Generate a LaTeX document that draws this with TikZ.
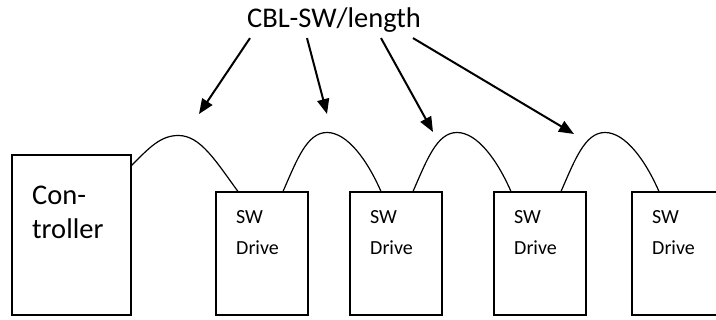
\documentclass[tikz,border=0pt]{standalone}
\usepackage{fontspec}
\setmainfont{Carlito}
\usetikzlibrary{arrows.meta}

\begin{document}
\begin{tikzpicture}[x=1pt,y=1pt,
  box/.style={draw,line width=1.5pt,anchor=south west,inner sep=0pt},
  boxtext/.style={anchor=north west,inner sep=0pt,align=left},
  wire/.style={line width=1.2pt},
  pointer/.style={line width=2pt,-{Triangle[length=15pt,width=12pt]}}]

\useasboundingbox (0,0) rectangle (716,320);
\clip (0,0) rectangle (716,320);

% controller
\node[box,minimum width=119pt,minimum height=160pt,
  label={[boxtext,xshift=21pt,yshift=-31pt,font=\fontsize{28.5}{34}\selectfont]north west:Con-\\troller}]
  (ctrl) at (11,4) {};

% drives
\foreach \n/\x in {1/215,2/349,3/493,4/631}
  \node[box,minimum width=92pt,minimum height=123pt,
    label={[boxtext,xshift=21pt,yshift=-19pt,font=\fontsize{20}{31}\selectfont]north west:SW\\Drive}]
    (d\n) at (\x,4) {};

% cables
\draw[wire] ([yshift=-11pt]ctrl.north east)
  .. controls +(18,18) and +(-18,0) .. ++(47,30)
  .. controls +(22,0) and +(-22,30) .. ([xshift=23pt]d1.north west);
\foreach \a/\b/\s/\e in {1/2/68pt/32pt,2/3/64pt/18pt,3/4/68pt/28pt}
  \draw[wire] ([xshift=\s]d\a.north west)
    .. controls +(14,32) and +(-20,0) .. ++(44,59)
    .. controls +(20,0) and +(-14,32) .. ([xshift=\e]d\b.north west);

% label
\node[font=\fontsize{28.5}{32}\selectfont,anchor=base,inner sep=5pt] (lbl) at (334,292) {CBL-SW/length};

\coordinate (tip1) at (199,206);
\coordinate (tip2) at (327,206);
\coordinate (tip3) at (433,188);
\coordinate (tip4) at (574,186);

\draw[pointer] ([xshift=-84pt]lbl.south) -- (tip1);
\draw[pointer] ([xshift=-27pt]lbl.south) -- (tip2);
\draw[pointer] ([xshift=47pt]lbl.south) -- (tip3);
\draw[pointer] ([xshift=79pt]lbl.south) -- (tip4);

\end{tikzpicture}
\end{document}
